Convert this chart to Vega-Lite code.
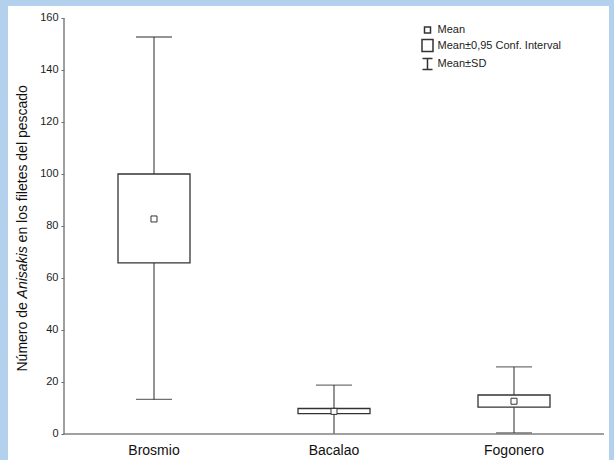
{
  "$schema": "https://vega.github.io/schema/vega-lite/v6.json",
  "autosize": {"type": "none"},
  "width": 601,
  "height": 454,
  "padding": {"left": 8, "top": 6, "right": 5, "bottom": 0},
  "background": "#b3d1ec",
  "config": {
    "font": "Liberation Sans",
    "view": {"fill": "white", "stroke": null},
    "axisX": {"domain": false, "ticks": false, "grid": false, "labelFontSize": 14, "labelColor": "#111", "labelPadding": 9, "offset": -26, "labelAngle": 0},
    "axisY": {"domain": false, "grid": false, "offset": -56, "titleAngle": -90, "titleFontSize": 14, "titleColor": "#111", "titleFontWeight": "normal", "titleBaseline": "middle", "titleAlign": "left", "titleX": -42}
  },
  "data": {
    "values": [
      {"cat": "Brosmio", "stat": "Mean", "mean": 82.7, "ciLo": 65.8, "ciHi": 100.0, "low": 13.3, "high": 152.7, "capLo": 13.3},
      {"cat": "Bacalao", "stat": "Mean", "mean": 8.7, "ciLo": 7.8, "ciHi": 9.8, "low": 0, "high": 18.8, "capLo": null},
      {"cat": "Fogonero", "stat": "Mean", "mean": 12.6, "ciLo": 10.3, "ciHi": 15.0, "low": 0.4, "high": 25.8, "capLo": 0.4}
    ]
  },
  "resolve": {"axis": {"y": "independent"}},
  "layer": [
    {
      "mark": {"type": "rule", "color": "#666", "strokeWidth": 1.4},
      "encoding": {
        "x": {"field": "cat", "type": "nominal", "axis": {"title": null}, "scale": {"type": "band", "domain": ["Brosmio", "Bacalao", "Fogonero"], "paddingInner": 0, "paddingOuter": 0.169444, "align": 0.918}},
        "y": {"field": "low", "type": "quantitative", "scale": {"domain": [-10, 164.615], "nice": false, "zero": false},
              "axis": {"orient": "left", "title": "Número de", "titleY": 365, "values": [0, 20, 40, 60, 80, 100, 120, 140, 160], "tickSize": 3, "tickColor": "#666", "labelFontSize": 11, "labelColor": "#222", "labelPadding": 3}},
        "y2": {"field": "high"}
      }
    },
    {
      "mark": {"type": "tick", "color": "#333", "thickness": 1.4, "size": 36},
      "encoding": {
        "x": {"field": "cat", "type": "nominal", "axis": {"title": null}},
        "y": {"field": "high", "type": "quantitative", "axis": {"orient": "left", "title": "Anisakis", "titleY": 291.9, "titleFontStyle": "italic", "labels": false, "ticks": false}}
      }
    },
    {
      "mark": {"type": "tick", "color": "#333", "thickness": 1.4, "size": 36},
      "encoding": {
        "x": {"field": "cat", "type": "nominal", "axis": {"title": null}},
        "y": {"field": "capLo", "type": "quantitative", "axis": null}
      }
    },
    {
      "mark": {"type": "bar", "fill": "white", "stroke": "#333", "strokeWidth": 1.3, "width": {"band": 0.4}},
      "encoding": {
        "x": {"field": "cat", "type": "nominal", "axis": {"title": null}},
        "y": {"field": "ciLo", "type": "quantitative", "axis": {"orient": "left", "title": "en los filetes del pescado", "titleY": 235.9, "labels": false, "ticks": false}},
        "y2": {"field": "ciHi"}
      }
    },
    {
      "mark": {"type": "point", "filled": false, "fill": "white", "stroke": "#333", "color": "#333", "strokeWidth": 1, "opacity": 1, "size": 100},
      "encoding": {
        "x": {"field": "cat", "type": "nominal", "axis": {"title": null}},
        "y": {"field": "mean", "type": "quantitative", "axis": null},
        "shape": {"field": "stat", "type": "nominal",
                  "scale": {"domain": ["Mean", "Mean±0,95 Conf. Interval", "Mean±SD"],
                            "range": ["M-0.6,-0.6H0.6V0.6H-0.6Z", "M-1.1,-1.2H1.1V1.2H-1.1Z", "M-1,-1.1H1M0,-1.1V1.1M-1,1.1H1"]},
                  "legend": {"title": null, "orient": "none", "legendX": 413.5, "legendY": 18, "rowPadding": 0.5, "labelFontSize": 11, "labelColor": "#222"}}
      }
    },
    {
      "data": {"values": [{}]},
      "mark": {"type": "rule", "color": "#808080", "strokeWidth": 1.5},
      "encoding": {
        "x": {"datum": "Brosmio", "type": "nominal", "bandPosition": 0, "axis": {"title": null}},
        "y": {"datum": 0, "type": "quantitative", "axis": null},
        "y2": {"datum": 160}
      }
    },
    {
      "data": {"values": [{}]},
      "mark": {"type": "rule", "color": "#808080", "strokeWidth": 1.5},
      "encoding": {
        "x": {"datum": "Brosmio", "type": "nominal", "bandPosition": 0, "axis": {"title": null}},
        "x2": {"datum": "Fogonero", "bandPosition": 1},
        "y": {"datum": 0, "type": "quantitative", "axis": null}
      }
    }
  ]
}
